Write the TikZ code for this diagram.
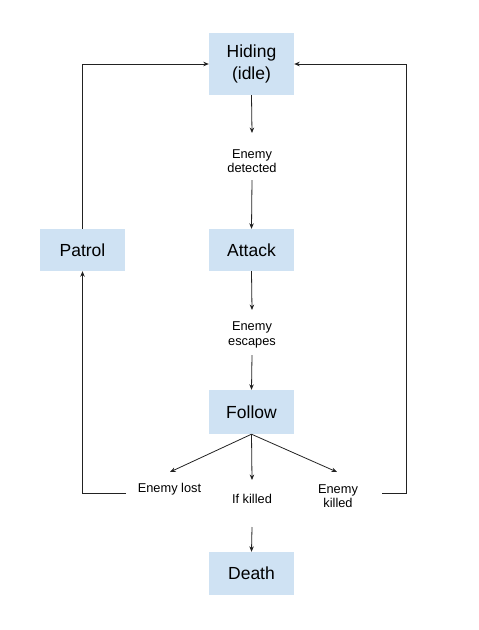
\documentclass[tikz,border=0pt]{standalone}
\usepackage{fontspec}
\setmainfont{Liberation Sans}
\usetikzlibrary{arrows.meta}
\definecolor{boxblue}{HTML}{CFE2F3}
\definecolor{linegray}{HTML}{222222}
\begin{document}
\begin{tikzpicture}[x=1pt,y=-1pt,
  state/.style={fill=boxblue,draw=none,minimum width=85pt,inner sep=0pt,align=center,font=\fontsize{17.5}{22.5}\selectfont},
  lbl/.style={inner sep=0pt,align=center,font=\fontsize{12.8}{14.5}\selectfont},
  conn/.style={draw=linegray,line width=0.8pt},
  arr/.style={conn,-{Stealth[length=5.5pt,width=4.5pt]}}]
\useasboundingbox (0,0) rectangle (479,630);
\node[state,minimum height=62pt] (hide) at (251.5,64) {Hiding\\(idle)};
\node[state,minimum height=42pt] (patrol) at (82.5,250) {Patrol};
\node[state,minimum height=42pt] (attack) at (251.5,250) {Attack};
\node[state,minimum height=44pt] (follow) at (251.5,412) {Follow};
\node[state,minimum height=43pt] (death) at (251.5,573.5) {Death};
\node[lbl] (det) at (252,161) {Enemy\\detected};
\node[lbl] (esc) at (252,335) {Enemy\\escapes};
\node[lbl] (lost) at (169.5,489) {Enemy lost};
\node[lbl] (ifk) at (252,499) {If killed};
\node[lbl] (ek) at (338,496) {Enemy\\killed};
\coordinate (det-top) at (252,133);
\coordinate (det-bot) at (252,180);
\coordinate (esc-top) at (252,310);
\coordinate (esc-bot) at (252,355);
\coordinate (ifk-top) at (252,480);
\coordinate (ifk-bot) at (252,527);
\coordinate (lost-top) at (170,472);
\coordinate (ek-top) at (337,472);
\coordinate (lost-l) at (126,493);
\coordinate (ek-r) at (382,493);
\draw[arr] (hide.south) -- (det-top);
\draw[arr] (det-bot) -- (attack.north);
\draw[arr] (attack.south) -- (esc-top);
\draw[arr] (esc-bot) -- (follow.north);
\draw[arr] (follow.south) -- (lost-top);
\draw[arr] (follow.south) -- (ifk-top);
\draw[arr] (follow.south) -- (ek-top);
\draw[arr] (ifk-bot) -- (death.north);
\draw[arr] (lost-l) -| (patrol.south);
\draw[arr] (patrol.north) |- (hide.west);
\draw[arr] (ek-r) -- (406,493) |- (hide.east);
\end{tikzpicture}
\end{document}
